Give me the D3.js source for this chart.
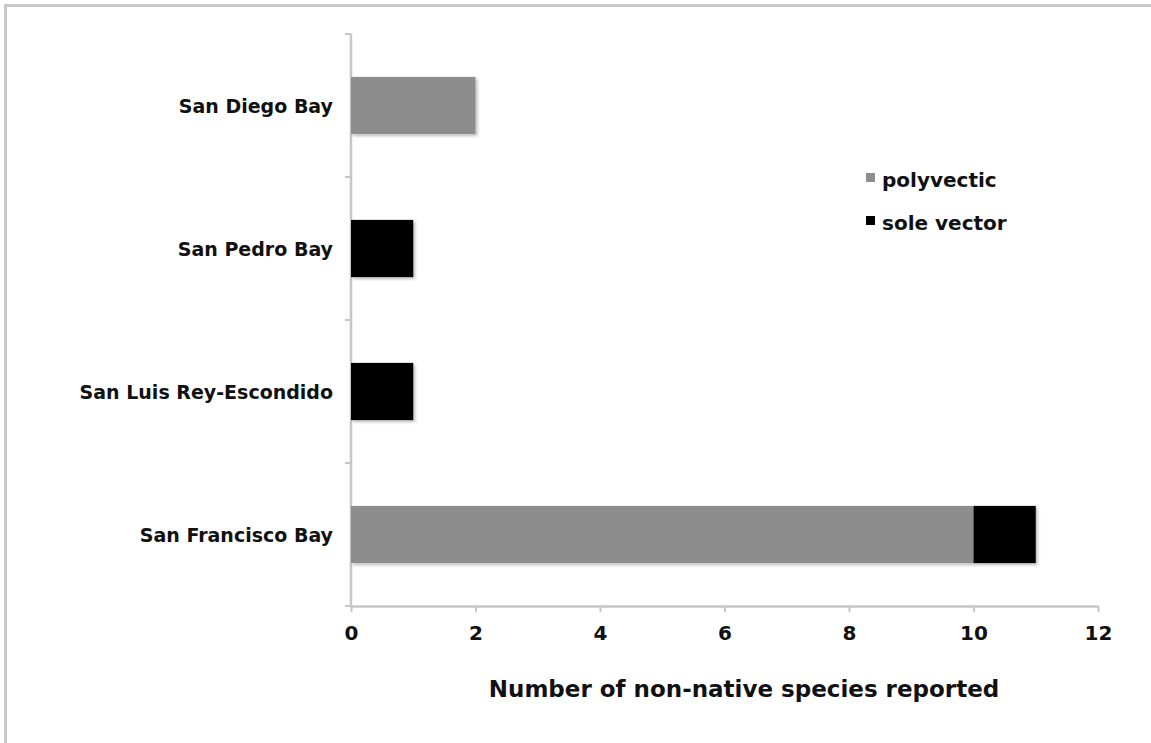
<!DOCTYPE html>
<html lang="en">
<head>
  <meta charset="UTF-8">
  <title>Non-native species by bay</title>
  <script src="https://d3js.org/d3.v7.min.js"></script>
  <style>
    body { margin: 0; background: #fff; }
    text { font-family: "DejaVu Sans", Arial, sans-serif; font-weight: bold; fill: #111; }
  </style>
</head>
<body>
  <svg width="1151" height="743"></svg>

  <script>
    const categories = ["San Diego Bay", "San Pedro Bay", "San Luis Rey-Escondido", "San Francisco Bay"];
    const polyvectic = [2, 0, 0, 10];
    const soleVector = [0, 1, 1, 1];
    const xTicks = [0, 2, 4, 6, 8, 10, 12];
    const seriesNames = ["polyvectic", "sole vector"];
    const seriesColors = ["#8d8d8d", "#000000"];

    let svg = d3.select("svg");
    let margin = { top: 34, right: 53, bottom: 137, left: 351 };
    let width = +svg.attr("width");
    let height = +svg.attr("height");
    let axisColor = "#c6c6c6";

    // outer frame (only top and left edges show)
    svg.append("rect")
      .attr("x", 5.5).attr("y", 5.5)
      .attr("width", width + 20).attr("height", height + 20)
      .attr("fill", "none")
      .attr("stroke", "#c8c8c8")
      .attr("stroke-width", 3);

    let defs = svg.append("defs");
    let f = defs.append("filter").attr("id", "shadow")
      .attr("x", "-10%").attr("y", "-20%").attr("width", "130%").attr("height", "150%");
    f.append("feDropShadow")
      .attr("dx", 2).attr("dy", 2).attr("stdDeviation", 1.5)
      .attr("flood-color", "#000").attr("flood-opacity", 0.25);

    let x = d3.scaleLinear()
      .domain([0, 12])
      .range([margin.left, width - margin.right]);

    let y = d3.scaleBand()
      .domain(categories)
      .range([margin.top, height - margin.bottom])
      .paddingInner(0.6)
      .paddingOuter(0.3);

    let yEdges = d3.scaleLinear()
      .domain([0, categories.length])
      .range([margin.top, height - margin.bottom]);

    let rows = categories.map((c, i) => ({ cat: c, poly: polyvectic[i], sole: soleVector[i] }));
    let stacked = d3.stack().keys(["poly", "sole"])(rows);

    // y axis
    let yAxis = svg.append("g");
    yAxis.append("line")
      .attr("x1", margin.left).attr("x2", margin.left)
      .attr("y1", yEdges(0)).attr("y2", yEdges(categories.length))
      .attr("stroke", axisColor).attr("stroke-width", 2.5);
    yAxis.selectAll(".ytick")
      .data(d3.range(categories.length + 1))
      .enter().append("line")
      .attr("x1", margin.left - 6).attr("x2", margin.left)
      .attr("y1", d => yEdges(d)).attr("y2", d => yEdges(d))
      .attr("stroke", axisColor).attr("stroke-width", 2);

    // x axis
    let xAxis = svg.append("g")
      .attr("transform", `translate(0,${height - margin.bottom})`)
      .call(d3.axisBottom(x).tickValues(xTicks).tickSize(6).tickSizeOuter(0).tickPadding(14));
    xAxis.select(".domain").attr("stroke", axisColor).attr("stroke-width", 2.5);
    xAxis.selectAll(".tick line").attr("stroke", axisColor).attr("stroke-width", 2);
    xAxis.selectAll(".tick text")
      .attr("font-size", 20)
      .attr("font-family", null)
      .attr("fill", "#111");

    // bars
    stacked.forEach((s, si) => {
      svg.append("g")
        .attr("fill", seriesColors[si])
        .selectAll("rect")
        .data(s.filter(d => d[1] > d[0]))
        .enter().append("rect")
        .attr("x", d => x(d[0]))
        .attr("y", d => y(d.data.cat))
        .attr("width", d => x(d[1]) - x(d[0]))
        .attr("height", y.bandwidth())
        .attr("filter", "url(#shadow)");
    });

    // category labels
    svg.append("g").selectAll("text")
      .data(categories)
      .enter().append("text")
      .attr("x", margin.left - 18)
      .attr("y", d => y(d) + y.bandwidth() / 2 + 7)
      .attr("text-anchor", "end")
      .attr("font-size", 19)
      .text(d => d);

    // x axis title
    svg.append("text")
      .attr("x", 744)
      .attr("y", 697)
      .attr("text-anchor", "middle")
      .attr("font-size", 23)
      .text("Number of non-native species reported");

    // legend
    let legend = svg.append("g").attr("transform", "translate(866,173)");
    let item = legend.selectAll("g")
      .data(seriesNames)
      .enter().append("g")
      .attr("transform", (d, i) => `translate(0,${i * 43})`);
    item.append("rect")
      .attr("width", 9).attr("height", 9)
      .attr("fill", (d, i) => seriesColors[i]);
    item.append("text")
      .attr("x", 16)
      .attr("y", 14)
      .attr("font-size", 20)
      .text(d => d);
  </script>
</body>
</html>
